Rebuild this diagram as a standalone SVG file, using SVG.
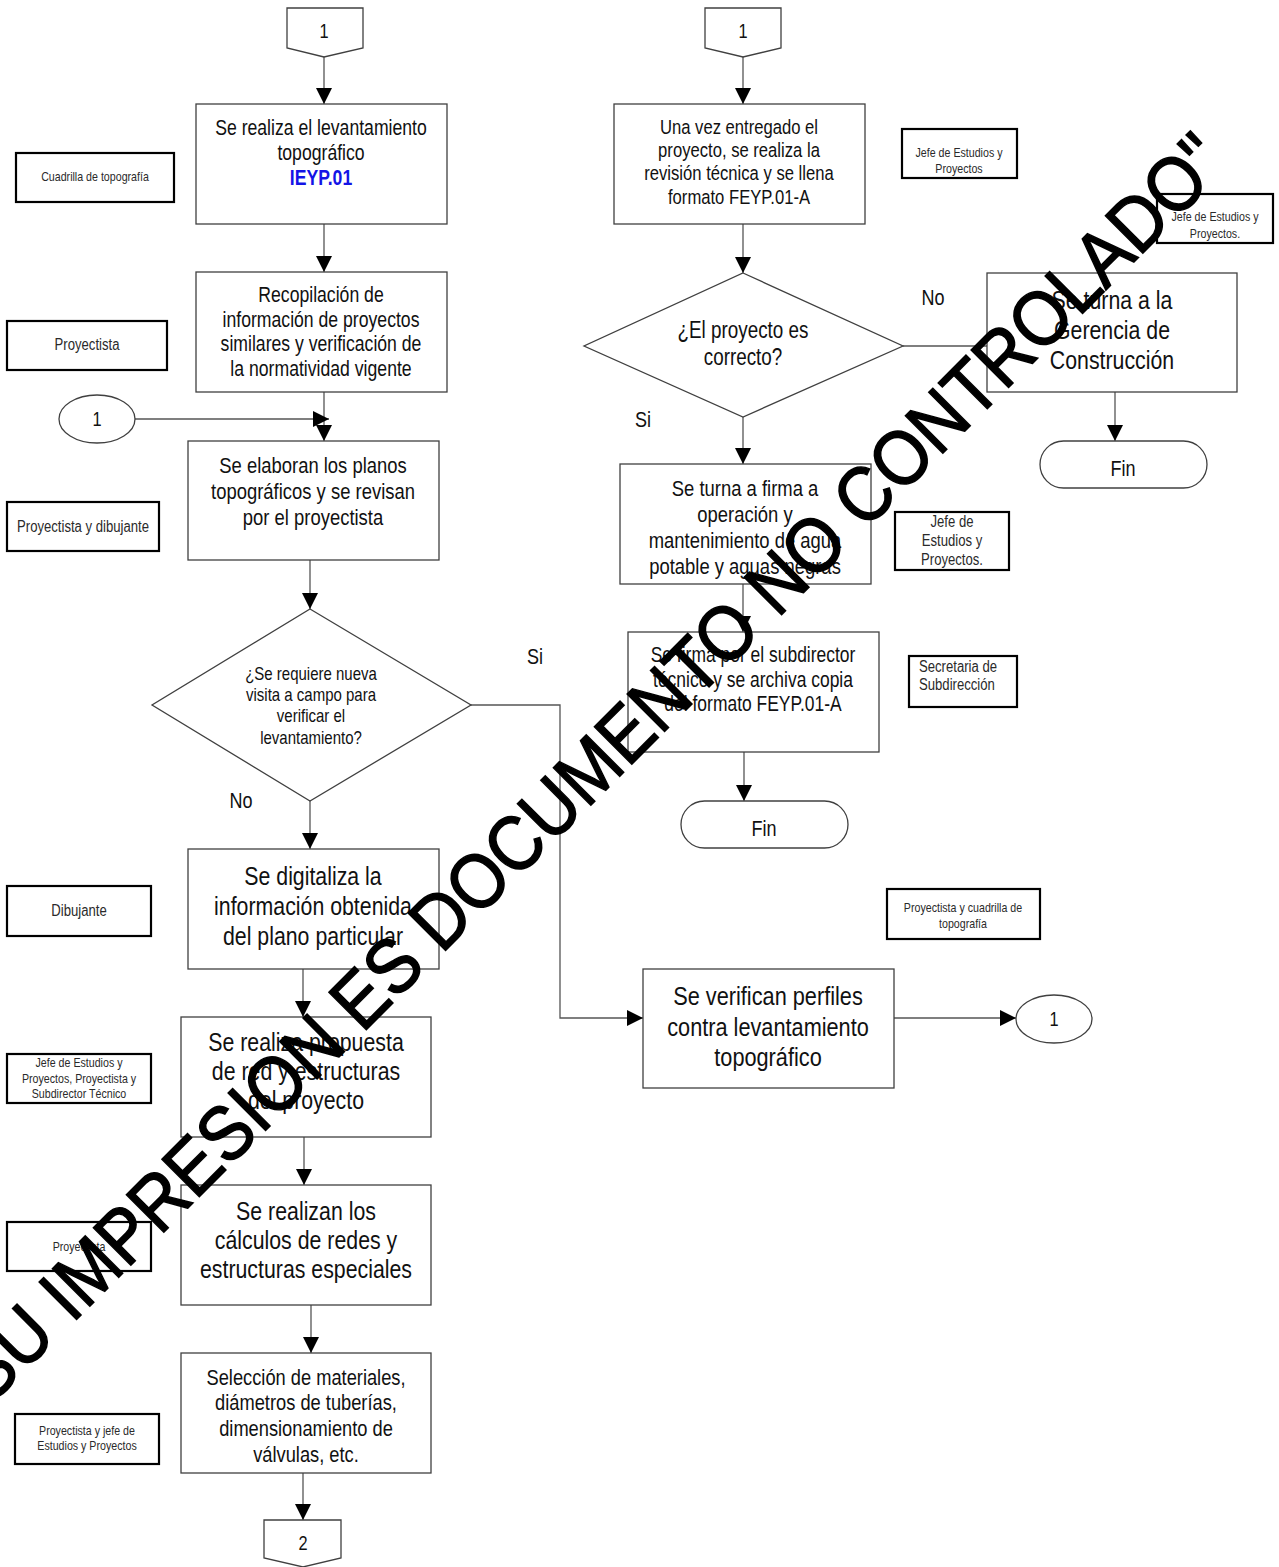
<svg xmlns="http://www.w3.org/2000/svg" width="1279" height="1567" viewBox="0 0 1279 1567">
<defs>
<marker id="arr" markerUnits="userSpaceOnUse" markerWidth="16" markerHeight="16" viewBox="0 0 16 16" refX="16" refY="8" orient="auto">
<path d="M0,0 L16,8 L0,16 z" fill="#000"/>
</marker>
<style>
.box{fill:#fff;stroke:#404040;stroke-width:1.3}
.lbl{fill:#fff;stroke:#000;stroke-width:2.2}
.ln{fill:none;stroke:#555;stroke-width:1.3}
.t{font-family:"Liberation Sans",Arial,sans-serif;fill:#111;text-anchor:middle}
.s{font-family:"Liberation Sans",Arial,sans-serif;fill:#2a2a2a;text-anchor:middle}
.wm{font-family:"Liberation Sans",Arial,sans-serif;font-size:77px;fill:#000;stroke:#000;stroke-width:1.5;text-anchor:middle}
</style>
</defs>

<g id="connectors">
<line class="ln" x1="324" y1="57" x2="324" y2="104" marker-end="url(#arr)"/>
<line class="ln" x1="324" y1="224" x2="324" y2="272" marker-end="url(#arr)"/>
<line class="ln" x1="324" y1="392" x2="324" y2="441" marker-end="url(#arr)"/>
<line class="ln" x1="135" y1="419" x2="329" y2="419" marker-end="url(#arr)"/>
<line class="ln" x1="310" y1="560" x2="310" y2="609" marker-end="url(#arr)"/>
<line class="ln" x1="310" y1="801" x2="310" y2="849" marker-end="url(#arr)"/>
<polyline class="ln" points="471,705 560,705 560,1018 643,1018" marker-end="url(#arr)"/>
<line class="ln" x1="303" y1="969" x2="303" y2="1017" marker-end="url(#arr)"/>
<line class="ln" x1="304" y1="1137" x2="304" y2="1185" marker-end="url(#arr)"/>
<line class="ln" x1="311" y1="1305" x2="311" y2="1353" marker-end="url(#arr)"/>
<line class="ln" x1="303" y1="1473" x2="303" y2="1520" marker-end="url(#arr)"/>
<line class="ln" x1="743" y1="57" x2="743" y2="104" marker-end="url(#arr)"/>
<line class="ln" x1="743" y1="224" x2="743" y2="273" marker-end="url(#arr)"/>
<line class="ln" x1="903" y1="346" x2="987" y2="346"/>
<line class="ln" x1="1115" y1="392" x2="1115" y2="441" marker-end="url(#arr)"/>
<line class="ln" x1="743" y1="417" x2="743" y2="464" marker-end="url(#arr)"/>
<line class="ln" x1="743" y1="584" x2="743" y2="632" marker-end="url(#arr)"/>
<line class="ln" x1="744" y1="752" x2="744" y2="801" marker-end="url(#arr)"/>
<line class="ln" x1="894" y1="1018" x2="1016" y2="1018" marker-end="url(#arr)"/>
</g>

<g id="offpage-1-left">
<polygon class="box" points="287,8 363,8 363,48 324,57 287,48"/>
<text class="t" transform="translate(324 0) scale(0.82 1)" x="0" y="38" font-size="20">1</text>
</g>
<g id="n-levantamiento">
<rect class="box" x="196" y="104" width="251" height="120"/>
<text class="t" transform="translate(321 0) scale(0.82 1)" font-size="21.5"><tspan x="0" y="135">Se realiza el levantamiento</tspan><tspan x="0" y="160">topográfico</tspan><tspan x="0" y="185" fill="#1414e6" font-weight="bold">IEYP.01</tspan></text>
</g>
<g id="l-cuadrilla">
<rect class="lbl" x="16" y="153" width="158" height="49"/>
<text class="s" transform="translate(95 0) scale(0.82 1)" x="0" y="181.5" font-size="13">Cuadrilla de topografía</text>
</g>
<g id="n-recopilacion">
<rect class="box" x="196" y="272" width="251" height="120"/>
<text class="t" transform="translate(321 0) scale(0.82 1)" font-size="21.5"><tspan x="0" y="302.5">Recopilación de</tspan><tspan x="0" y="327.5">información de proyectos</tspan><tspan x="0" y="351.5">similares y verificación de</tspan><tspan x="0" y="376.5">la normatividad vigente</tspan></text>
</g>
<g id="l-proyectista1">
<rect class="lbl" x="7" y="321" width="160" height="49"/>
<text class="s" transform="translate(87 0) scale(0.82 1)" x="0" y="350.5" font-size="16">Proyectista</text>
</g>
<g id="conn-1-left">
<ellipse class="box" cx="97" cy="419" rx="38" ry="24"/>
<text class="t" transform="translate(97 0) scale(0.82 1)" x="0" y="426" font-size="20">1</text>
</g>
<g id="n-planos">
<rect class="box" x="188" y="441" width="251" height="119"/>
<text class="t" transform="translate(313 0) scale(0.82 1)" font-size="22.5"><tspan x="0" y="473">Se elaboran los planos</tspan><tspan x="0" y="499">topográficos y se revisan</tspan><tspan x="0" y="525">por el proyectista</tspan></text>
</g>
<g id="l-proydib">
<rect class="lbl" x="7" y="502" width="152" height="49"/>
<text class="s" transform="translate(83 0) scale(0.82 1)" x="0" y="532.5" font-size="16">Proyectista y dibujante</text>
</g>
<g id="d-visita">
<polygon class="box" points="310,609 471,705 310,801 152,705"/>
<text class="t" transform="translate(311 0) scale(0.82 1)" font-size="18.3"><tspan x="0" y="680.5">¿Se requiere nueva</tspan><tspan x="0" y="701.5">visita a campo para</tspan><tspan x="0" y="722.5">verificar el</tspan><tspan x="0" y="744.5">levantamiento?</tspan></text>
<text class="t" transform="translate(535 0) scale(0.82 1)" x="0" y="664" font-size="22">Si</text>
<text class="t" transform="translate(241 0) scale(0.82 1)" x="0" y="808" font-size="22">No</text>
</g>
<g id="n-digitaliza">
<rect class="box" x="188" y="849" width="251" height="120"/>
<text class="t" transform="translate(313 0) scale(0.82 1)" font-size="26"><tspan x="0" y="885">Se digitaliza la</tspan><tspan x="0" y="915">información obtenida</tspan><tspan x="0" y="945">del plano particular</tspan></text>
</g>
<g id="l-dibujante">
<rect class="lbl" x="7" y="886" width="144" height="50"/>
<text class="s" transform="translate(79 0) scale(0.82 1)" x="0" y="916.5" font-size="16">Dibujante</text>
</g>
<g id="n-propuesta">
<rect class="box" x="181" y="1017" width="250" height="120"/>
<text class="t" transform="translate(306 0) scale(0.82 1)" font-size="26"><tspan x="0" y="1051">Se realiza propuesta</tspan><tspan x="0" y="1080">de red y estructuras</tspan><tspan x="0" y="1109">del proyecto</tspan></text>
</g>
<g id="l-jefe3">
<rect class="lbl" x="7" y="1054" width="144" height="49"/>
<text class="s" transform="translate(79 0) scale(0.82 1)" font-size="13"><tspan x="0" y="1067.5">Jefe de Estudios y</tspan><tspan x="0" y="1083.5">Proyectos, Proyectista y</tspan><tspan x="0" y="1098.5">Subdirector Técnico</tspan></text>
</g>
<g id="n-calculos">
<rect class="box" x="181" y="1185" width="250" height="120"/>
<text class="t" transform="translate(306 0) scale(0.82 1)" font-size="26"><tspan x="0" y="1220">Se realizan los</tspan><tspan x="0" y="1249">cálculos de redes y</tspan><tspan x="0" y="1278">estructuras especiales</tspan></text>
</g>
<g id="l-proyectista2">
<rect class="lbl" x="7" y="1222" width="144" height="49"/>
<text class="s" transform="translate(79 0) scale(0.82 1)" x="0" y="1251.5" font-size="13">Proyectista</text>
</g>
<g id="n-seleccion">
<rect class="box" x="181" y="1353" width="250" height="120"/>
<text class="t" transform="translate(306 0) scale(0.82 1)" font-size="22.3"><tspan x="0" y="1385">Selección de materiales,</tspan><tspan x="0" y="1410">diámetros de tuberías,</tspan><tspan x="0" y="1436">dimensionamiento de</tspan><tspan x="0" y="1462">válvulas, etc.</tspan></text>
</g>
<g id="l-proyjefe">
<rect class="lbl" x="15" y="1414" width="144" height="50"/>
<text class="s" transform="translate(87 0) scale(0.82 1)" font-size="13"><tspan x="0" y="1435.5">Proyectista y jefe de</tspan><tspan x="0" y="1450.5">Estudios y Proyectos</tspan></text>
</g>
<g id="offpage-2">
<polygon class="box" points="264,1520 341,1520 341,1558 303,1567 264,1558"/>
<text class="t" transform="translate(303 0) scale(0.82 1)" x="0" y="1550" font-size="20">2</text>
</g>

<g id="offpage-1-right">
<polygon class="box" points="705,8 781,8 781,48 743,57 705,48"/>
<text class="t" transform="translate(743 0) scale(0.82 1)" x="0" y="38" font-size="20">1</text>
</g>
<g id="n-revision">
<rect class="box" x="614" y="104" width="251" height="120"/>
<text class="t" transform="translate(739 0) scale(0.82 1)" font-size="20.3"><tspan x="0" y="134">Una vez entregado el</tspan><tspan x="0" y="157">proyecto, se realiza la</tspan><tspan x="0" y="180">revisión técnica y se llena</tspan><tspan x="0" y="204">formato FEYP.01-A</tspan></text>
</g>
<g id="l-jefe1">
<rect class="lbl" x="902" y="129" width="115" height="49"/>
<text class="s" transform="translate(959 0) scale(0.82 1)" font-size="13"><tspan x="0" y="157.5">Jefe de Estudios y</tspan><tspan x="0" y="173.5">Proyectos</tspan></text>
</g>
<g id="l-jefe2">
<rect class="lbl" x="1157" y="194" width="116" height="49"/>
<text class="s" transform="translate(1215 0) scale(0.82 1)" font-size="13"><tspan x="0" y="221.5">Jefe de Estudios y</tspan><tspan x="0" y="238.5">Proyectos.</tspan></text>
</g>
<g id="d-correcto">
<polygon class="box" points="743,273 903,346 743,417 584,346"/>
<text class="t" transform="translate(743 0) scale(0.82 1)" font-size="23"><tspan x="0" y="338">¿El proyecto es</tspan><tspan x="0" y="365">correcto?</tspan></text>
<text class="t" transform="translate(933 0) scale(0.82 1)" x="0" y="305" font-size="22">No</text>
<text class="t" transform="translate(643 0) scale(0.82 1)" x="0" y="427" font-size="22">Si</text>
</g>
<g id="n-gerencia">
<rect class="box" x="987" y="273" width="250" height="119"/>
<text class="t" transform="translate(1112 0) scale(0.82 1)" font-size="26"><tspan x="0" y="309">Se turna a la</tspan><tspan x="0" y="339">Gerencia de</tspan><tspan x="0" y="369">Construcción</tspan></text>
</g>
<g id="fin-1">
<rect class="box" x="1040" y="441" width="167" height="47" rx="23.5"/>
<text class="t" transform="translate(1123 0) scale(0.82 1)" x="0" y="476" font-size="22">Fin</text>
</g>
<g id="n-firma">
<rect class="box" x="620" y="464" width="251" height="120"/>
<text class="t" transform="translate(745 0) scale(0.82 1)" font-size="22.5"><tspan x="0" y="496">Se turna a firma a</tspan><tspan x="0" y="522">operación y</tspan><tspan x="0" y="548">mantenimiento de agua</tspan><tspan x="0" y="574">potable y aguas negras</tspan></text>
</g>
<g id="l-jefe4">
<rect class="lbl" x="895" y="512" width="114" height="58"/>
<text class="s" transform="translate(952 0) scale(0.82 1)" font-size="16"><tspan x="0" y="527.5">Jefe de</tspan><tspan x="0" y="546.5">Estudios y</tspan><tspan x="0" y="565.5">Proyectos.</tspan></text>
</g>
<g id="n-subdirector">
<rect class="box" x="628" y="632" width="251" height="120"/>
<text class="t" transform="translate(753 0) scale(0.82 1)" font-size="21.3"><tspan x="0" y="662.5">Se firma por el subdirector</tspan><tspan x="0" y="687.5">técnico y se archiva copia</tspan><tspan x="0" y="711.5">del formato FEYP.01-A</tspan></text>
</g>
<g id="l-secretaria">
<rect class="lbl" x="909" y="656" width="108" height="51"/>
<text class="s" transform="translate(919 0) scale(0.82 1)" font-size="16" style="text-anchor:start"><tspan x="0" y="672.5">Secretaria de</tspan><tspan x="0" y="690.5">Subdirección</tspan></text>
</g>
<g id="fin-2">
<rect class="box" x="681" y="801" width="167" height="47" rx="23.5"/>
<text class="t" transform="translate(764 0) scale(0.82 1)" x="0" y="836" font-size="22">Fin</text>
</g>
<g id="l-proycuad">
<rect class="lbl" x="887" y="889" width="153" height="50"/>
<text class="s" transform="translate(963 0) scale(0.82 1)" font-size="13"><tspan x="0" y="912.5">Proyectista y cuadrilla de</tspan><tspan x="0" y="928.5">topografía</tspan></text>
</g>
<g id="n-perfiles">
<rect class="box" x="643" y="969" width="251" height="119"/>
<text class="t" transform="translate(768 0) scale(0.82 1)" font-size="26.5"><tspan x="0" y="1005">Se verifican perfiles</tspan><tspan x="0" y="1036">contra levantamiento</tspan><tspan x="0" y="1066">topográfico</tspan></text>
</g>
<g id="conn-1-right">
<ellipse class="box" cx="1054" cy="1019" rx="38" ry="24"/>
<text class="t" transform="translate(1054 0) scale(0.82 1)" x="0" y="1026" font-size="20">1</text>
</g>

<g id="watermark">
<text class="wm" transform="translate(610,786) rotate(-45) scale(0.905,1)" x="0" y="0">SU IMPRESION ES DOCUMENTO NO CONTROLADO"</text>
</g>
</svg>
